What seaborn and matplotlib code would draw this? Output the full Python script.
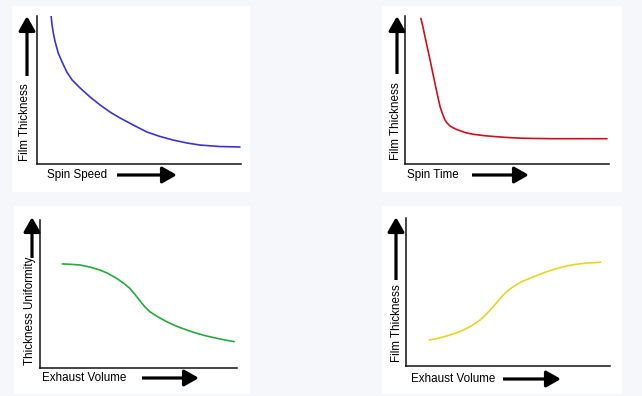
import matplotlib
matplotlib.use("Agg")
import matplotlib.pyplot as plt
from matplotlib.patches import Rectangle, FancyArrowPatch
import seaborn as sns
import pandas as pd

# curve values (axes run 0..10 in both directions)
speed_x = [0.69, 0.74, 0.80, 0.88, 1.04, 1.23, 1.46, 1.72, 2.11, 2.60, 3.09, 3.58, 4.07,
           4.71, 5.39, 6.03, 6.67, 7.35, 7.99, 8.97, 9.95]
speed_y = [10.0, 9.39, 8.85, 8.31, 7.50, 6.89, 6.22, 5.68, 5.14, 4.53, 3.99, 3.51, 3.11,
           2.64, 2.16, 1.86, 1.62, 1.42, 1.28, 1.18, 1.15]

time_x = [0.78, 0.88, 0.98, 1.10, 1.23, 1.35, 1.47, 1.59, 1.72, 1.84, 1.96, 2.08, 2.21,
          2.45, 2.70, 2.99, 3.33, 3.92, 4.51, 5.15, 5.78, 6.62, 7.25, 8.58, 9.90]
time_y = [9.84, 9.26, 8.60, 7.84, 7.03, 6.22, 5.45, 4.66, 3.87, 3.38, 2.97, 2.74, 2.57,
          2.38, 2.25, 2.11, 2.01, 1.91, 1.84, 1.78, 1.74, 1.72, 1.71, 1.71, 1.71]

unif_x = [1.13, 1.52, 2.03, 2.54, 3.05, 3.45, 3.89, 4.26, 4.57, 4.82, 5.08, 5.33, 5.58,
          5.99, 6.43, 6.90, 7.45, 7.92, 8.46, 9.14, 9.85]
unif_y = [7.03, 7.01, 6.96, 6.82, 6.62, 6.39, 6.06, 5.71, 5.37, 4.97, 4.53, 4.12, 3.80,
          3.45, 3.13, 2.84, 2.57, 2.36, 2.16, 1.96, 1.78]

exh_x = [1.14, 1.57, 2.00, 2.40, 2.81, 3.24, 3.63, 3.97, 4.28, 4.53, 4.77, 5.00, 5.26,
         5.64, 6.08, 6.47, 6.90, 7.35, 7.87, 8.33, 8.86, 9.54]
exh_y = [1.76, 1.87, 2.03, 2.20, 2.43, 2.74, 3.11, 3.55, 4.01, 4.43, 4.80, 5.10, 5.36,
         5.68, 5.93, 6.15, 6.37, 6.57, 6.76, 6.87, 6.96, 7.01]

x_labels = ["Spin Speed", "Spin Time", "Exhaust Volume", "Exhaust Volume"]
y_labels = ["Film Thickness", "Film Thickness", "Thickness Uniformity", "Film Thickness"]
colors = ["#3a34d4", "#cc1020", "#22aa3a", "#e8d424"]

sns.set_theme(style="white")
plt.rcParams["font.family"] = ["Liberation Sans", "DejaVu Sans"]

W, H = 642, 396
fig = plt.figure(figsize=(W / 100, H / 100), dpi=100)
fig.patch.set_facecolor("#f5f7fa")

# layout in pixels from the top-left corner: axes box, white panel, arrows, labels
panels = [
    dict(ax=(37, 16, 241, 164), bg=(12, 6, 250, 192), up=(27, 76, 16), right=(117, 177, 175),
         ylab=(25, 122), xlab=(47, 175)),
    dict(ax=(405, 16, 609, 164), bg=(382, 6, 622, 192), up=(397, 74, 16), right=(472, 529, 175),
         ylab=(396, 121), xlab=(407, 175)),
    dict(ax=(40, 220, 237, 368), bg=(14, 206, 250, 394), up=(32, 258, 217), right=(142, 199, 378),
         ylab=(30, 311), xlab=(42, 378)),
    dict(ax=(406, 218, 610, 366), bg=(382, 206, 622, 394), up=(396, 280, 217), right=(503, 561, 379),
         ylab=(397, 323), xlab=(411, 379)),
]
series = [(speed_x, speed_y), (time_x, time_y), (unif_x, unif_y), (exh_x, exh_y)]


def fx(px):
    return px / W


def fy(py):
    return 1 - py / H


def arrow(p0, p1):
    fig.add_artist(FancyArrowPatch(
        (fx(p0[0]), fy(p0[1])), (fx(p1[0]), fy(p1[1])), transform=fig.transFigure,
        arrowstyle="-|>,head_length=0.8,head_width=0.45", mutation_scale=11,
        lw=2.3, color="black", shrinkA=0, shrinkB=0, capstyle="butt"))


for i, p in enumerate(panels):
    bx0, by0, bx1, by1 = p["bg"]
    fig.add_artist(Rectangle((fx(bx0), fy(by1)), (bx1 - bx0) / W, (by1 - by0) / H,
                             transform=fig.transFigure, facecolor="white", edgecolor="none",
                             zorder=0))

    x0, y0, x1, y1 = p["ax"]
    ax = fig.add_axes([fx(x0), fy(y1), (x1 - x0) / W, (y1 - y0) / H])
    ax.set_facecolor("white")
    df = pd.DataFrame({"x": series[i][0], "y": series[i][1]})
    sns.lineplot(data=df, x="x", y="y", ax=ax, color=colors[i], lw=1.2, sort=False)
    ax.set_xlim(0, 10)
    ax.set_ylim(0, 10)
    ax.set_xticks([])
    ax.set_yticks([])
    ax.set_xlabel("")
    ax.set_ylabel("")
    for side in ["top", "right"]:
        ax.spines[side].set_visible(False)
    for side in ["left", "bottom"]:
        ax.spines[side].set_color("#111111")
        ax.spines[side].set_linewidth(1.1)

    ux, uy0, uy1 = p["up"]
    arrow((ux, uy0), (ux, uy1))
    rx0, rx1, ry = p["right"]
    arrow((rx0, ry), (rx1, ry))

    lx, ly = p["ylab"]
    fig.text(fx(lx), fy(ly), y_labels[i], rotation=90, ha="center", va="center",
             fontsize=8.4, color="black")
    tx, ty = p["xlab"]
    fig.text(fx(tx), fy(ty), x_labels[i], ha="left", va="center", fontsize=8.4,
             color="black")

fig.savefig("out.png", dpi=100, facecolor=fig.get_facecolor())
